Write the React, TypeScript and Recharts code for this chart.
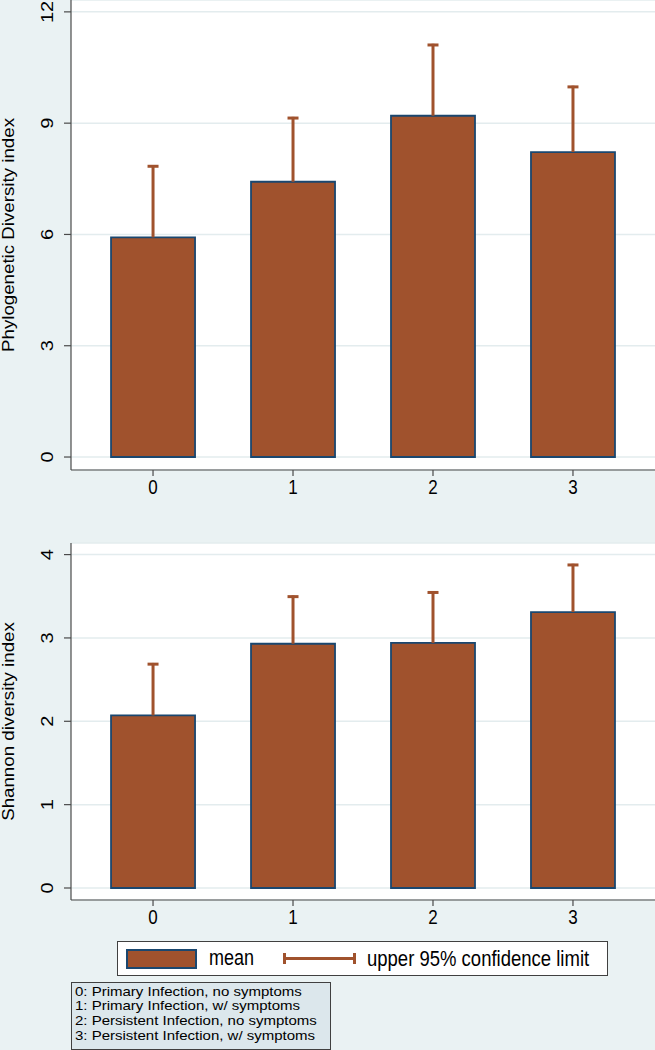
import React from "react";
import { ComposedChart, Bar, XAxis, YAxis, CartesianGrid } from "recharts";

const categories = [0, 1, 2, 3];
const pdMean = [5.92, 7.42, 9.2, 8.22];
const pdUpper = [7.87, 9.17, 11.14, 10.01];
const shMean = [2.07, 2.93, 2.94, 3.31];
const shUpper = [2.7, 3.51, 3.56, 3.89];
const pdTicks = [0, 3, 6, 9, 12];
const shTicks = [0, 1, 2, 3, 4];
const xTicks = [0, 1, 2, 3];
const noteLines = [
  "0: Primary Infection, no symptoms",
  "1: Primary Infection, w/ symptoms",
  "2: Persistent Infection, no symptoms",
  "3: Persistent Infection, w/ symptoms",
];

const BG = "#EAF2F3";
const FILL = "#A0522D";
const EDGE = "#1A476F";
const AXIS = "#4A4A4A";
const FONT = "'Liberation Sans', Arial, sans-serif";

const build = (mean: number[], upper: number[]) =>
  categories.map((c, i) => ({ x: c, mean: mean[i], err: upper[i] - mean[i] }));

const XTick = (props: any) => {
  const { x, y, payload } = props;
  return (
    <g transform={`translate(${x},${y + 16}) scale(1,1.2)`}>
      <text x={0} y={0} textAnchor="middle" fontSize={17} fontFamily={FONT} fill="#000">
        {payload.value}
      </text>
    </g>
  );
};

const YTick = (props: any) => {
  const { x, y, payload } = props;
  return (
    <g transform={`translate(${x - 14.5},${y}) scale(1,1.25) rotate(-90)`}>
      <text x={0} y={0} textAnchor="middle" dominantBaseline="central" fontSize={16} fontFamily={FONT} fill="#000">
        {payload.value}
      </text>
    </g>
  );
};

const Whisker = (props: any) => {
  const { x, y, width, height } = props;
  if (x == null || y == null) return null;
  const cx = x + width / 2;
  return (
    <g>
      <line x1={cx} x2={cx} y1={y} y2={y + height} stroke={FILL} strokeWidth={3} />
      <line x1={cx - 5.5} x2={cx + 5.5} y1={y + 1.2} y2={y + 1.2} stroke={FILL} strokeWidth={3} />
    </g>
  );
};

const makeTitle = (text: string) => (props: any) => {
  const vb = props.viewBox || {};
  const cy = vb.y + vb.height / 2;
  return (
    <g transform={`translate(13.5,${cy}) scale(1,1.17) rotate(-90)`}>
      <text x={0} y={0} textAnchor="middle" fontSize={16} fontFamily={FONT} fill="#000">
        {text}
      </text>
    </g>
  );
};

type PanelProps = {
  data: any[];
  top: number;
  height: number;
  marginTop: number;
  domain: [number, number];
  ticks: number[];
  title: string;
};

const Panel = ({ data, top, height, marginTop, domain, ticks, title }: PanelProps) => (
  <div style={{ position: "absolute", left: 0, top }}>
    <ComposedChart
      width={655}
      height={height}
      data={data}
      margin={{ top: marginTop, right: 0, left: 0, bottom: 0 }}
    >
      <CartesianGrid vertical={false} horizontal={true} fill="#FFFFFF" stroke="#E3ECEE" strokeWidth={1.5} />
      <XAxis
        dataKey="x"
        type="number"
        domain={[-0.586, 3.586]}
        ticks={xTicks}
        allowDataOverflow
        height={40}
        tickSize={6}
        axisLine={{ stroke: AXIS, strokeWidth: 1.2 }}
        tickLine={{ stroke: AXIS, strokeWidth: 1.2 }}
        tick={<XTick />}
        interval={0}
      />
      <YAxis
        type="number"
        domain={domain}
        ticks={ticks}
        allowDataOverflow
        width={71}
        tickSize={7}
        axisLine={{ stroke: AXIS, strokeWidth: 1.2 }}
        tickLine={{ stroke: AXIS, strokeWidth: 1.2 }}
        tick={<YTick />}
        interval={0}
        label={{ content: makeTitle(title) }}
      />
      <Bar dataKey="mean" stackId="a" barSize={84} fill={FILL} stroke={EDGE} strokeWidth={1.8} isAnimationActive={false} />
      <Bar dataKey="err" stackId="a" barSize={84} shape={<Whisker />} isAnimationActive={false} />
    </ComposedChart>
  </div>
);

export default function App() {
  return (
    <div style={{ position: "absolute", left: 0, top: 0, width: 655, height: 1050, background: BG, overflow: "hidden", fontFamily: FONT }}>
      <Panel
        data={build(pdMean, pdUpper)}
        top={0}
        height={510}
        marginTop={0}
        domain={[-0.35, 12.32]}
        ticks={pdTicks}
        title="Phylogenetic Diversity index"
      />
      <Panel
        data={build(shMean, shUpper)}
        top={520}
        height={420}
        marginTop={23}
        domain={[-0.144, 4.139]}
        ticks={shTicks}
        title="Shannon diversity index"
      />
      <div
        style={{
          position: "absolute",
          left: 117,
          top: 940.5,
          width: 491,
          height: 35,
          boxSizing: "border-box",
          background: "#FFFFFF",
          border: "1px solid #404040",
        }}
      >
        <div style={{ position: "absolute", left: 8, top: 7, width: 71, height: 20, boxSizing: "border-box", background: FILL, border: `2px solid ${EDGE}` }} />
        <div style={{ position: "absolute", left: 91, top: 0, height: 33, lineHeight: "33px", fontSize: 18, transform: "scaleY(1.22)", color: "#000" }}>
          mean
        </div>
        <div style={{ position: "absolute", left: 165, top: 15.5, width: 73, height: 3, background: FILL }} />
        <div style={{ position: "absolute", left: 165, top: 11.5, width: 3, height: 11, background: FILL }} />
        <div style={{ position: "absolute", left: 235, top: 11.5, width: 3, height: 11, background: FILL }} />
        <div style={{ position: "absolute", left: 249, top: 0, height: 33, lineHeight: "33px", fontSize: 18.5, transform: "scaleY(1.22)", color: "#000", whiteSpace: "nowrap" }}>
          upper 95% confidence limit
        </div>
      </div>
      <div
        style={{
          position: "absolute",
          left: 71,
          top: 982,
          width: 260,
          height: 68,
          boxSizing: "border-box",
          background: "#DCE7EC",
          border: "1px solid #404040",
          padding: "1.5px 0 0 3px",
          fontSize: 13,
          lineHeight: "14.7px",
          color: "#000",
          whiteSpace: "nowrap",
        }}
      >
        {noteLines.map((l) => (
          <div key={l} style={{ height: 14.7, transform: "scaleX(1.154)", transformOrigin: "0 50%" }}>
            {l}
          </div>
        ))}
      </div>
    </div>
  );
}
